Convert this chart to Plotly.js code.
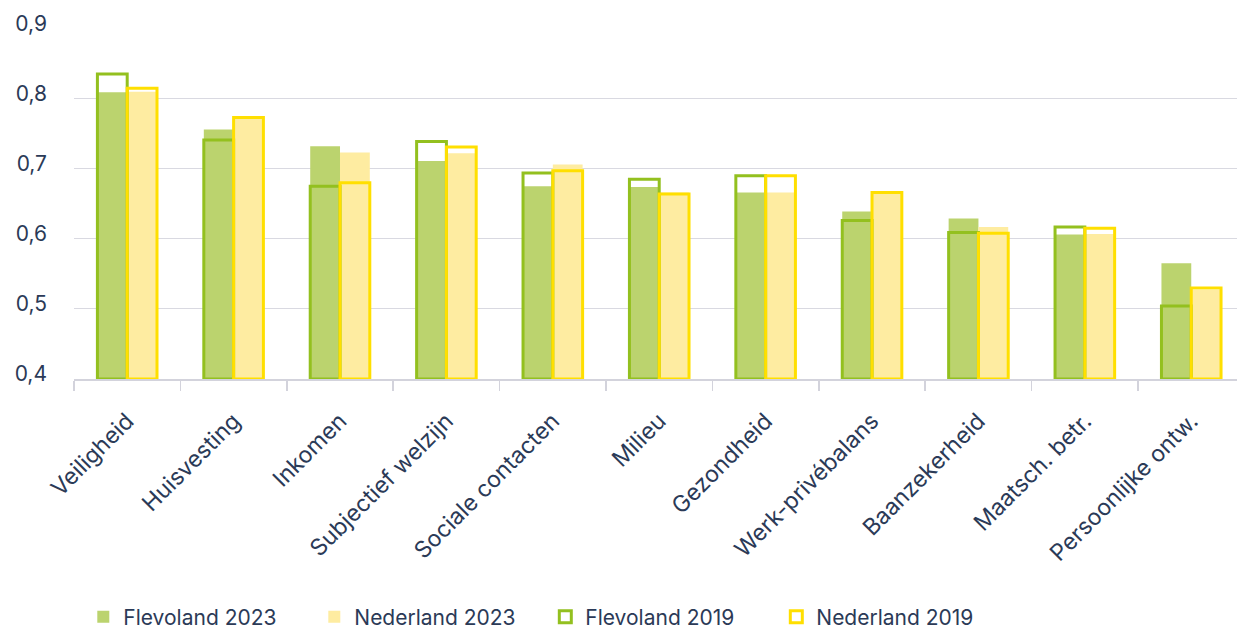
<!DOCTYPE html>
<html><head><meta charset="utf-8">
<script src="https://cdn.plot.ly/plotly-3.0.1.min.js"></script>
<style>html,body{margin:0;padding:0;background:#fff}#chart{width:1237px;height:633px}</style>
</head><body><div id="chart"></div>
<script>
const categories = ["Veiligheid","Huisvesting","Inkomen","Subjectief welzijn","Sociale contacten","Milieu","Gezondheid","Werk-privébalans","Baanzekerheid","Maatsch. betr.","Persoonlijke ontw."];
const flevoland2023 = [0.809,0.756,0.732,0.711,0.675,0.674,0.666,0.639,0.629,0.606,0.565];
const nederland2023 = [0.810,0.771,0.723,0.722,0.706,0.666,0.666,0.665,0.617,0.607,0.527];
const flevoland2019 = [0.835,0.741,0.675,0.739,0.694,0.685,0.690,0.626,0.609,0.617,0.504];
const nederland2019 = [0.815,0.773,0.680,0.731,0.697,0.664,0.690,0.666,0.608,0.615,0.530];
const seriesNames = ["Flevoland 2023","Nederland 2023","Flevoland 2019","Nederland 2019"];

const BASE = 0.4, W = 0.28;
const txt = '#2b3a57';
function bar(name, vals, off, fill, line, lw){
  return {type:'bar', name:name, x:categories, y:vals.map(v=>v-BASE), base:BASE,
    width:W, offset:off, marker:{color:fill, line:{color:line, width:lw}}, hoverinfo:'skip'};
}
const data = [
  bar(seriesNames[0], flevoland2023, -W, '#bbd36e', '#bbd36e', 0),
  bar(seriesNames[1], nederland2023, 0, '#feeca1', '#feeca1', 0),
  bar(seriesNames[2], flevoland2019, -W, 'rgba(255,255,255,0)', '#93c01f', 3),
  bar(seriesNames[3], nederland2019, 0, 'rgba(255,255,255,0)', '#ffdf00', 3)
];
const layout = {
  width:1237, height:633, margin:{l:74, r:0, t:28, b:254, autoexpand:false},
  paper_bgcolor:'#fff', plot_bgcolor:'#fff',
  barmode:'overlay', separators:',.',
  font:{family:'Inter, "Open Sans", sans-serif', color:txt, size:21},
  xaxis:{type:'category', range:[-0.5,10.43], tickangle:-45, showline:true, linecolor:'#d3d3dc', linewidth:1.5,
    ticks:'outside', tickson:'boundaries', ticklen:10, tickcolor:'#d3d3dc', tickwidth:1.5, automargin:false,
    ticklabelstandoff:18, showgrid:false, zeroline:false, tickfont:{size:23, color:txt}},
  yaxis:{range:[0.4,0.9008], tick0:0.4, dtick:0.1, tickformat:'.1f', gridcolor:'#d9d9e1', gridwidth:1, automargin:false,
    zeroline:false, showline:false, ticks:'', ticklabelstandoff:26, ticklabelshift:-5, tickfont:{size:21, color:txt}},
  showlegend:true,
  legend:{orientation:'h', x:0.008, xanchor:'left', y:-0.737, yanchor:'bottom', entrywidth:186, entrywidthmode:'pixels',
    font:{size:21, color:txt}, traceorder:'normal'}
};
Plotly.newPlot('chart', data, layout, {displayModeBar:false, staticPlot:true});
</script></body></html>
